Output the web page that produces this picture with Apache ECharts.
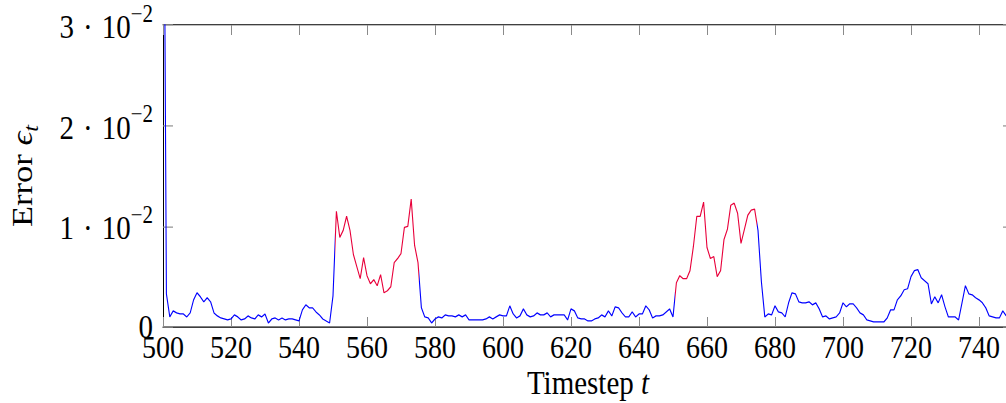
<!DOCTYPE html>
<html>
<head>
<meta charset="utf-8">
<script src="https://cdn.jsdelivr.net/npm/echarts@6/dist/echarts.min.js"></script>
<style>
  html { margin: 0; padding: 0; background: #fff; overflow: hidden; }
  body { margin: 0; padding: 0; background: #fff; width: 1006px; height: 403px; }
  /* the figure is drawn slightly squeezed and stretched back vertically */
  #chart { width: 1006px; height: 350.43px; transform: scaleY(1.15); transform-origin: 0 0; }
</style>
</head>
<body>
<div id="chart"></div>
<script>
// Per-step reconstruction error, one value per timestep starting at firstStep
const firstStep = 500;
const errorValues = [
  0.065, 0.0033, 0.0010, 0.0016, 0.0014, 0.0013, 0.0013, 0.0010, 0.0014, 0.0027,
  0.0034, 0.0030, 0.0025, 0.0029, 0.0025, 0.0014, 0.0011, 0.0009, 0.0008, 0.0007,
  0.0008, 0.0012, 0.0010, 0.0007, 0.0008, 0.0011, 0.0009, 0.0008, 0.0012, 0.0010,
  0.0013, 0.0004, 0.0008, 0.0009, 0.0007, 0.0009, 0.0007, 0.0008, 0.0008, 0.0007,
  0.0006, 0.0017, 0.0022, 0.0019, 0.0019, 0.0015, 0.0012, 0.0008, 0.0006, 0.0004,
  0.0031, 0.0115, 0.0089, 0.0096, 0.0110, 0.0096, 0.0072, 0.0060, 0.0048, 0.0069,
  0.0051, 0.0043, 0.0047, 0.0041, 0.0052, 0.0034, 0.0036, 0.0040, 0.0064, 0.0068,
  0.0073, 0.0099, 0.0100, 0.0127, 0.0081, 0.0064, 0.0019, 0.0010, 0.0009, 0.0004,
  0.0008, 0.0010, 0.0009, 0.0012, 0.0011, 0.0011, 0.0010, 0.0012, 0.0010, 0.0012,
  0.0007, 0.0007, 0.0007, 0.0007, 0.0007, 0.0008, 0.0010, 0.0008, 0.0010, 0.0012,
  0.0011, 0.0011, 0.0021, 0.0013, 0.0009, 0.0011, 0.0018, 0.0012, 0.0010, 0.0011,
  0.0014, 0.0012, 0.0012, 0.0014, 0.0010, 0.0012, 0.0012, 0.0012, 0.0012, 0.0007,
  0.0018, 0.0016, 0.0009, 0.0008, 0.0008, 0.0006, 0.0006, 0.0008, 0.0009, 0.0012,
  0.0010, 0.0016, 0.0011, 0.0020, 0.0019, 0.0014, 0.0010, 0.0010, 0.0015, 0.0010,
  0.0013, 0.0013, 0.0021, 0.0017, 0.0009, 0.0011, 0.0011, 0.0012, 0.0015, 0.0018,
  0.0010, 0.0044, 0.0051, 0.0048, 0.0048, 0.0056, 0.0080, 0.0110, 0.0110, 0.0124,
  0.0079, 0.0068, 0.0070, 0.0050, 0.0056, 0.0087, 0.0097, 0.0121, 0.0123, 0.0113,
  0.0083, 0.0097, 0.0111, 0.0116, 0.0117, 0.0096, 0.0045, 0.0010, 0.0013, 0.0012,
  0.0021, 0.0015, 0.0014, 0.0010, 0.0024, 0.0034, 0.0033, 0.0025, 0.0024, 0.0024,
  0.0025, 0.0022, 0.0024, 0.0018, 0.0010, 0.0011, 0.0008, 0.0009, 0.0010, 0.0014,
  0.0024, 0.0020, 0.0023, 0.0023, 0.0019, 0.0014, 0.0012, 0.0007, 0.0006, 0.0005,
  0.0005, 0.0005, 0.0005, 0.0009, 0.0017, 0.0017, 0.0027, 0.0031, 0.0037, 0.0038,
  0.0050, 0.0056, 0.0057, 0.0049, 0.0046, 0.0043, 0.0023, 0.0030, 0.0024, 0.0032,
  0.0020, 0.0010, 0.0010, 0.0010, 0.0007, 0.0024, 0.0041, 0.0033, 0.0032, 0.0029,
  0.0027, 0.0024, 0.0019, 0.0011, 0.0010, 0.0009, 0.0009, 0.0016, 0.0011
];

// Timestep windows flagged as anomalous (drawn in red)
const anomalyWindows = [[550.5, 575.2], [650.5, 674.8]];

// Axis ranges and tick spacing
const xRange = [500, 750];
const xStep = 20;
const yRange = [0, 0.03];
const yStep = 0.01;
const yTickMantissas = ['0', '1', '2', '3'];

const normalColor = '#0000ff';
const anomalyColor = '#e8003a';
const serif = '"Liberation Serif", "DejaVu Serif", serif';
const S = 1.15; // vertical stretch applied by CSS

// Plot box (chart units before the CSS stretch)
const plot = { left: 163, top: 25 / S, width: 850, height: 302 / S };

const points = errorValues.map((v, i) => [firstStep + i, v]);

// Colour pieces along the time axis
const pieces = [];
let cursor = null;
anomalyWindows.forEach(([a, b]) => {
  const blue = { lt: a, color: normalColor };
  if (cursor !== null) blue.gte = cursor;
  pieces.push(blue);
  pieces.push({ gte: a, lt: b, color: anomalyColor });
  cursor = b;
});
pieces.push({ gte: cursor, color: normalColor });

const tickGray = '#8a8a8a';
const frameLine = { show: true, onZero: false, lineStyle: { color: '#000', width: 1 } };

const chart = echarts.init(document.getElementById('chart'), null, { renderer: 'svg' });
chart.setOption({
  animation: false,
  backgroundColor: '#fff',
  grid: {
    left: plot.left, top: plot.top, width: plot.width, height: plot.height,
    containLabel: false, outerBoundsMode: 'none'
  },
  // x-axis title, centred under the plot box
  graphic: [{
    type: 'text',
    x: plot.left + plot.width / 2,
    y: 332.6,
    silent: true,
    style: {
      text: '{a|Timestep }{i|t}',
      align: 'center', verticalAlign: 'middle',
      rich: {
        a: { fontFamily: serif, fontSize: 29, lineHeight: 30, fill: '#000' },
        i: { fontFamily: serif, fontSize: 29, lineHeight: 30, fontStyle: 'italic', fill: '#000' }
      }
    }
  }],
  xAxis: [{
    type: 'value', position: 'bottom',
    min: xRange[0], max: xRange[1], interval: xStep,
    axisLine: frameLine,
    axisTick: { show: true, inside: true, length: 10 / S, lineStyle: { color: tickGray, width: 1 } },
    axisLabel: {
      margin: 4, color: '#000', fontFamily: serif, fontSize: 28, lineHeight: 28,
      showMaxLabel: false, hideOverlap: false, formatter: v => String(v)
    },
    splitLine: { show: false }
  }, {
    type: 'value', position: 'top',
    min: xRange[0], max: xRange[1], interval: xStep,
    axisLine: frameLine,
    axisTick: { show: true, inside: true, length: 10 / S, lineStyle: { color: tickGray, width: 1 } },
    axisLabel: { show: false },
    splitLine: { show: false }
  }],
  yAxis: [{
    type: 'value', position: 'left',
    min: yRange[0], max: yRange[1], interval: yStep,
    axisLine: frameLine,
    axisTick: { show: true, inside: true, length: 10, lineStyle: { color: tickGray, width: 1 } },
    axisLabel: {
      margin: 10, color: '#000',
      formatter: v => {
        const m = yTickMantissas[Math.round(v / yStep)];
        return m === '0' ? '{z|0}' : '{n|' + m + '}{d|·}{n|10}{s|−2}';
      },
      rich: {
        z: { fontFamily: serif, fontSize: 29, lineHeight: 29, color: '#000' },
        n: { fontFamily: serif, fontSize: 29, lineHeight: 50, padding: [12, 0, 0, 0], verticalAlign: 'top', color: '#000' },
        d: { fontFamily: serif, fontSize: 29, lineHeight: 50, padding: [12, 9, 0, 9], verticalAlign: 'top', color: '#000' },
        s: { fontFamily: serif, fontSize: 21, lineHeight: 20, padding: [4.5, 0, 0, 0], verticalAlign: 'top', color: '#000' }
      }
    },
    splitLine: { show: false },
    name: '{a|Error }{e|ϵ}{s|t}',
    nameLocation: 'middle', nameGap: 126, nameMoveOverlap: false,
    nameTextStyle: {
      color: '#000',
      rich: {
        a: { fontFamily: serif, fontSize: 30, lineHeight: 30, verticalAlign: 'top', color: '#000' },
        e: { fontFamily: serif, fontSize: 30, lineHeight: 30, verticalAlign: 'top', fontStyle: 'italic', color: '#000' },
        s: { fontFamily: serif, fontSize: 21, lineHeight: 20, padding: [14, 0, 0, 0], verticalAlign: 'top', fontStyle: 'italic', color: '#000' }
      }
    }
  }, {
    type: 'value', position: 'right',
    min: yRange[0], max: yRange[1], interval: yStep,
    axisLine: frameLine,
    axisTick: { show: true, inside: true, length: 10, lineStyle: { color: tickGray, width: 1 } },
    axisLabel: { show: false },
    splitLine: { show: false }
  }],
  visualMap: {
    type: 'piecewise', show: false, dimension: 0, seriesIndex: 0,
    pieces: pieces
  },
  series: [{
    type: 'line',
    xAxisIndex: 0, yAxisIndex: 0,
    data: points,
    symbol: 'none', showSymbol: false,
    clip: true,
    lineStyle: { width: 1.1 }
  }]
});
</script>
</body>
</html>
